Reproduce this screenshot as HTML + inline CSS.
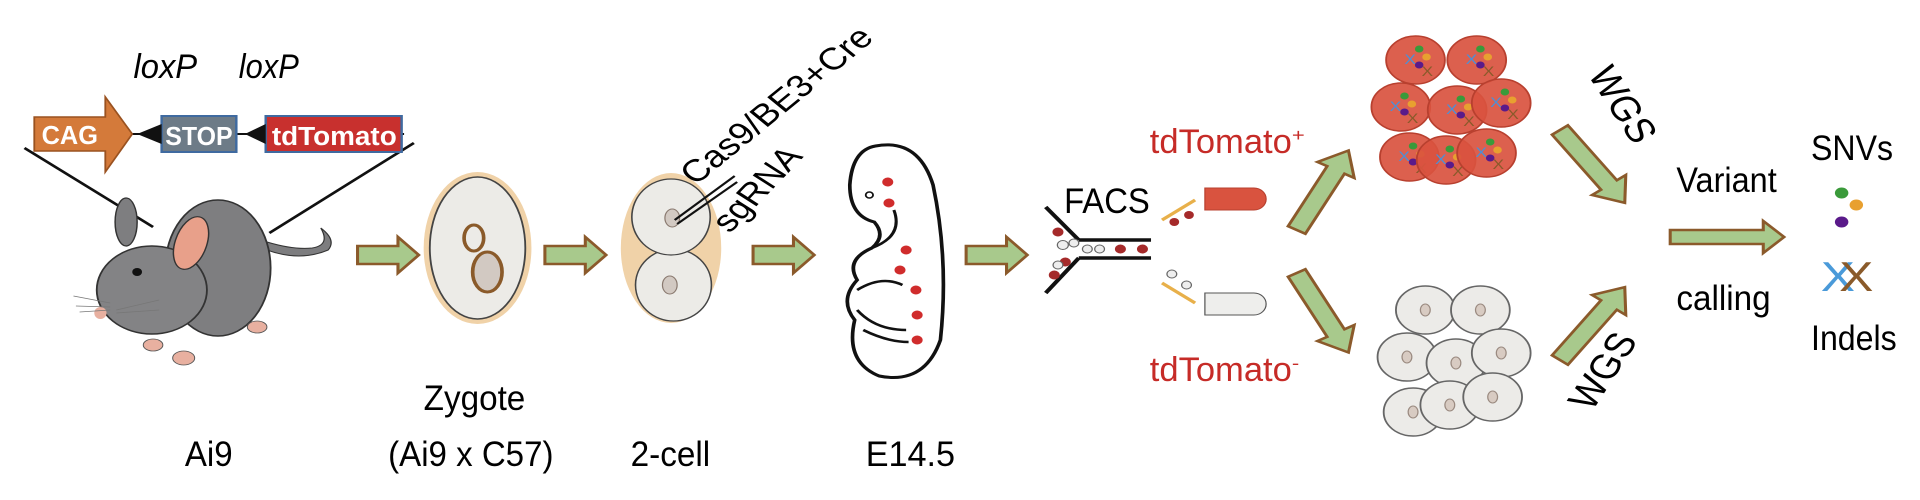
<!DOCTYPE html>
<html><head><meta charset="utf-8"><style>
html,body{margin:0;padding:0;background:#fff;width:1920px;height:500px;overflow:hidden}
svg{display:block}
text{font-family:"Liberation Sans",Arial,sans-serif}
</style></head><body>
<svg width="1920" height="500" viewBox="0 0 1568 500" preserveAspectRatio="none" xmlns="http://www.w3.org/2000/svg">
<defs>
<path id="ar" d="M0,-9 H33 V-18 L50,0 L33,18 V9 H0 Z" fill="#a8c98c" stroke="#8b5a2b" stroke-width="2.5"/>
<path id="arl" d="M0,-8 H68 V-17 L90,0 L68,17 V8 H0 Z" fill="#a8c98c" stroke="#8b5a2b" stroke-width="2.5"/>
<g id="rc">
<circle r="24" fill="#d9533f" fill-opacity="0.92" stroke="#b8402f" stroke-width="1.5"/>
<text x="-9" y="4" font-size="14" fill="#4a90d9">X</text>
<circle cx="3" cy="-11" r="3.5" fill="#3a9a3a"/>
<circle cx="9" cy="-3" r="3.5" fill="#e8a030"/>
<circle cx="3" cy="5" r="3.5" fill="#5a1a8a"/>
<text x="5" y="16" font-size="14" fill="#8a5a2a">X</text>
</g>
<g id="gc">
<circle r="24" fill="#ecebe8" stroke="#666" stroke-width="1.5"/>
<ellipse rx="4" ry="6" fill="#d8cbc2" stroke="#9a8a80" stroke-width="1"/>
</g>
</defs>

<!-- construct -->
<text x="109" y="78" font-size="34" font-style="italic" textLength="52" lengthAdjust="spacingAndGlyphs">loxP</text>
<text x="195" y="78" font-size="34" font-style="italic" textLength="49" lengthAdjust="spacingAndGlyphs">loxP</text>
<line x1="20" y1="148" x2="125" y2="227" stroke="#111" stroke-width="2.5"/>
<line x1="338" y1="143" x2="220" y2="233" stroke="#111" stroke-width="2.5"/>
<line x1="100" y1="134" x2="330" y2="134" stroke="#111" stroke-width="2"/>
<path d="M28,117 H86 V97 L108,134 L86,172 V151 H28 Z" fill="#d47a3a" stroke="#9a5220" stroke-width="1.5"/>
<text x="34" y="144" font-size="26" font-weight="bold" fill="#fff" textLength="46" lengthAdjust="spacingAndGlyphs">CAG</text>
<rect x="132" y="116" width="61" height="36" fill="#6d7b87" stroke="#3f6aa0" stroke-width="2"/>
<text x="135" y="145" font-size="26" font-weight="bold" fill="#fff" textLength="55" lengthAdjust="spacingAndGlyphs">STOP</text>
<path d="M112,134 L132,124 V144 Z" fill="#111"/>
<rect x="217" y="116" width="111" height="36" fill="#c8302e" stroke="#3f6aa0" stroke-width="2"/>
<text x="222" y="145" font-size="26" font-weight="bold" fill="#fff" textLength="102" lengthAdjust="spacingAndGlyphs">tdTomato</text>
<path d="M200,134 L217,124 V144 Z" fill="#111"/>

<!-- mouse -->
<path d="M218,250 Q245,262 268,250 Q275,240 262,228 Q270,245 255,248 Q240,250 218,242 Z" fill="#7d7d7f" stroke="#333" stroke-width="1"/>
<ellipse cx="178" cy="268" rx="43" ry="68" fill="#7e7e80" stroke="#333" stroke-width="1.5"/>
<ellipse cx="103" cy="222" rx="9" ry="24" fill="#7e7e80" stroke="#333" stroke-width="1.2"/>
<ellipse cx="124" cy="290" rx="45" ry="44" fill="#838385" stroke="#333" stroke-width="1.5"/>
<ellipse cx="156" cy="243" rx="13" ry="27" fill="#e8a08a" stroke="#333" stroke-width="1.2" transform="rotate(15 156 243)"/>
<ellipse cx="112" cy="272" rx="4" ry="4" fill="#111"/>
<ellipse cx="82" cy="313" rx="5" ry="6" fill="#e8b0a0"/>
<g stroke="#777" stroke-width="0.8"><line x1="60" y1="296" x2="90" y2="303"/><line x1="62" y1="306" x2="90" y2="307"/><line x1="65" y1="312" x2="90" y2="310"/><line x1="95" y1="310" x2="130" y2="300"/><line x1="95" y1="313" x2="130" y2="310"/></g>
<ellipse cx="125" cy="345" rx="8" ry="6" fill="#e8b0a0" stroke="#555" stroke-width="0.8"/>
<ellipse cx="150" cy="358" rx="9" ry="7" fill="#e8b0a0" stroke="#555" stroke-width="0.8"/>
<ellipse cx="210" cy="327" rx="8" ry="6" fill="#e8b0a0" stroke="#555" stroke-width="0.8"/>
<text x="151" y="466" font-size="35" textLength="39" lengthAdjust="spacingAndGlyphs">Ai9</text>

<use href="#ar" x="292" y="255"/>
<!-- zygote -->
<ellipse cx="390" cy="248" rx="44" ry="76" fill="#f0d2a8"/>
<ellipse cx="390" cy="248" rx="39" ry="71" fill="#ecebe7" stroke="#444" stroke-width="1.5"/>
<ellipse cx="387" cy="238" rx="8" ry="13" fill="none" stroke="#8a5a2a" stroke-width="3"/>
<ellipse cx="398" cy="272" rx="12" ry="20" fill="#d2c9c2" stroke="#8a5a2a" stroke-width="3"/>
<text x="346" y="410" font-size="35" textLength="83" lengthAdjust="spacingAndGlyphs">Zygote</text>
<text x="317" y="466" font-size="35" textLength="135" lengthAdjust="spacingAndGlyphs">(Ai9 x C57)</text>

<use href="#ar" x="445" y="255"/>
<!-- 2-cell -->
<ellipse cx="548" cy="248" rx="41" ry="75" fill="#f0d2a8"/>
<ellipse cx="550" cy="285" rx="31" ry="36" fill="#ecebe7" stroke="#444" stroke-width="1.3"/>
<ellipse cx="548" cy="217" rx="32" ry="38" fill="#ecebe7" stroke="#444" stroke-width="1.3"/>
<ellipse cx="549" cy="218" rx="6" ry="9" fill="#d2c9c2" stroke="#8a7a70"/>
<ellipse cx="547" cy="285" rx="6" ry="9" fill="#d2c9c2" stroke="#8a7a70"/>
<line x1="551" y1="220" x2="600" y2="176" stroke="#111" stroke-width="2"/>
<line x1="553" y1="224" x2="602" y2="182" stroke="#111" stroke-width="2"/>
<text x="0" y="0" font-size="31" transform="translate(568,186) rotate(-45)">Cas9/BE3+Cre</text>
<text x="0" y="0" font-size="31" transform="translate(596,234) rotate(-52)">sgRNA</text>
<text x="515" y="466" font-size="35" textLength="65" lengthAdjust="spacingAndGlyphs">2-cell</text>

<use href="#ar" x="615" y="255"/>
<!-- embryo -->
<path d="M715,146 Q750,138 762,185 Q775,260 768,340 Q755,385 718,376 Q690,362 698,320 Q685,300 700,280 Q690,260 712,248 Q724,236 714,222 Q694,216 694,185 Q696,150 715,146 Z" fill="#fff" stroke="#111" stroke-width="3"/>
<path d="M712,248 Q738,236 730,210 M700,290 Q720,275 737,285 M700,310 Q715,330 740,330 M705,330 Q725,342 742,342" fill="none" stroke="#111" stroke-width="2.5"/>
<circle cx="710" cy="195" r="3" fill="none" stroke="#111" stroke-width="1.5"/>
<g fill="#d02c2c"><circle cx="725" cy="182" r="4.5"/><circle cx="726" cy="203" r="4.5"/><circle cx="740" cy="250" r="4.5"/><circle cx="735" cy="270" r="4.5"/><circle cx="748" cy="290" r="4.5"/><circle cx="749" cy="315" r="4.5"/><circle cx="749" cy="340" r="4.5"/></g>
<text x="707" y="466" font-size="35" textLength="73" lengthAdjust="spacingAndGlyphs">E14.5</text>

<use href="#ar" x="789" y="255"/>
<!-- FACS -->
<text x="869" y="213" font-size="35" textLength="70" lengthAdjust="spacingAndGlyphs">FACS</text>
<g stroke="#111" stroke-width="3.5" fill="none">
<line x1="854" y1="207" x2="881" y2="240"/><line x1="881" y1="240" x2="940" y2="240"/>
<line x1="854" y1="293" x2="881" y2="258"/><line x1="881" y1="258" x2="940" y2="258"/>
</g>
<g fill="#a52a2a"><circle cx="864" cy="232" r="4.5"/><circle cx="870" cy="262" r="4.5"/><circle cx="915" cy="249" r="4.5"/><circle cx="933" cy="249" r="4.5"/><circle cx="861" cy="275" r="4.5"/></g>
<g fill="#eee" stroke="#666"><circle cx="868" cy="245" r="4.5"/><circle cx="877" cy="243" r="4"/><circle cx="888" cy="249" r="4"/><circle cx="898" cy="249" r="4"/><circle cx="864" cy="265" r="4"/></g>
<line x1="949" y1="220" x2="976" y2="200" stroke="#e8b04a" stroke-width="3"/>
<line x1="949" y1="283" x2="976" y2="303" stroke="#e8b04a" stroke-width="3"/>
<circle cx="959" cy="222" r="4" fill="#a52a2a"/><circle cx="971" cy="215" r="4" fill="#a52a2a"/>
<circle cx="957" cy="274" r="4" fill="#eee" stroke="#666"/><circle cx="969" cy="285" r="4" fill="#eee" stroke="#666"/>
<path d="M984,188 H1024 A10,11 0 0 1 1024,210 H984 Z" fill="#d9533f" stroke="#b8402f"/>
<path d="M984,293 H1024 A10,11 0 0 1 1024,315 H984 Z" fill="#eeeeec" stroke="#555"/>
<text x="939" y="153" font-size="34" fill="#c62b27"><tspan textLength="116" lengthAdjust="spacingAndGlyphs">tdTomato</tspan><tspan font-size="18" dy="-12">+</tspan></text>
<text x="939" y="381" font-size="34" fill="#c62b27"><tspan textLength="116" lengthAdjust="spacingAndGlyphs">tdTomato</tspan><tspan font-size="18" dy="-12">-</tspan></text>
<use href="#arl" transform="translate(1059,230) rotate(-62)"/>
<use href="#arl" transform="translate(1059,273) rotate(62)"/>

<!-- clusters -->
<use href="#rc" x="1156" y="60"/><use href="#rc" x="1206" y="60"/>
<use href="#rc" x="1144" y="107"/><use href="#rc" x="1190" y="110"/><use href="#rc" x="1226" y="103"/>
<use href="#rc" x="1151" y="157"/><use href="#rc" x="1181" y="160"/><use href="#rc" x="1214" y="153"/>
<use href="#gc" x="1164" y="310"/><use href="#gc" x="1209" y="310"/>
<use href="#gc" x="1149" y="357"/><use href="#gc" x="1189" y="363"/><use href="#gc" x="1226" y="353"/>
<use href="#gc" x="1154" y="412"/><use href="#gc" x="1184" y="405"/><use href="#gc" x="1219" y="397"/>

<use href="#arl" transform="translate(1274,130) rotate(54)"/>
<use href="#arl" transform="translate(1274,360) rotate(-54)"/>
<text x="0" y="0" font-size="34" transform="translate(1296,74) rotate(62)">WGS</text>
<text x="0" y="0" font-size="34" transform="translate(1300,412) rotate(-62)">WGS</text>

<text x="1369" y="192" font-size="35" textLength="82" lengthAdjust="spacingAndGlyphs">Variant</text>
<text x="1369" y="310" font-size="35" textLength="77" lengthAdjust="spacingAndGlyphs">calling</text>
<path d="M1364,230 H1440 V221 L1457,237 L1440,253 V244 H1364 Z" fill="#a8c98c" stroke="#8b5a2b" stroke-width="2.5"/>

<text x="1479" y="160" font-size="35" textLength="67" lengthAdjust="spacingAndGlyphs">SNVs</text>
<circle cx="1504" cy="193" r="5.5" fill="#3a9a3a"/>
<circle cx="1516" cy="205" r="5.5" fill="#e8a030"/>
<circle cx="1504" cy="222" r="5.5" fill="#5a1a8a"/>
<text x="1501" y="291" font-size="42" text-anchor="middle" fill="#4a9ad9">X</text>
<text x="1516" y="291" font-size="42" text-anchor="middle" fill="#8a5a2a">X</text>
<text x="1479" y="350" font-size="35" textLength="70" lengthAdjust="spacingAndGlyphs">Indels</text>
</svg>
</body></html>
